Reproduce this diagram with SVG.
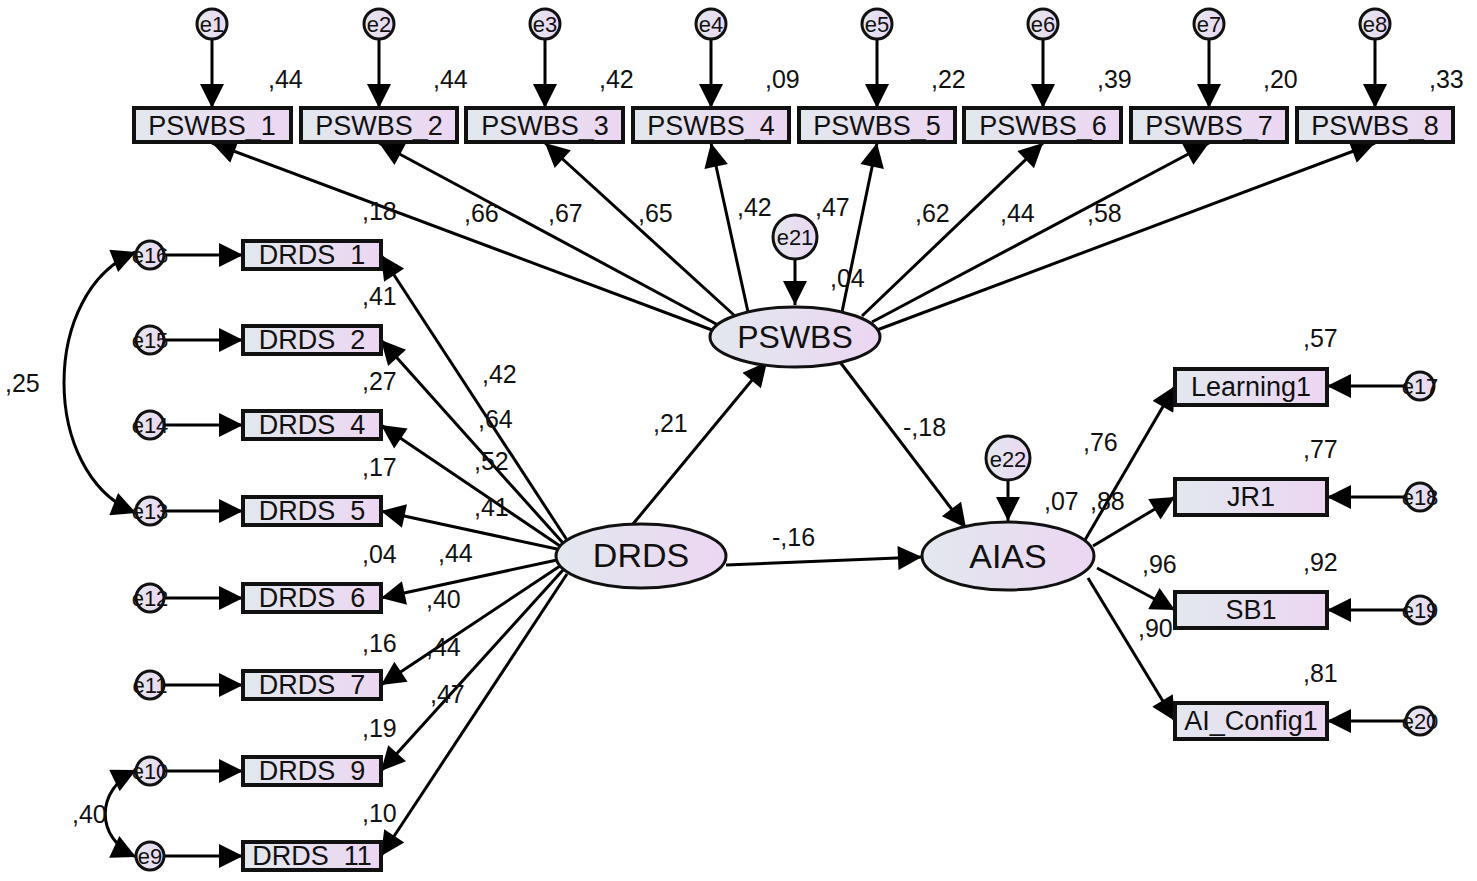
<svg xmlns="http://www.w3.org/2000/svg" width="1477" height="881" viewBox="0 0 1477 881">
<defs>
<linearGradient id="g" x1="0" y1="0" x2="1" y2="0"><stop offset="0" stop-color="#e2e8ee"/><stop offset="1" stop-color="#ecd6f2"/></linearGradient>
<marker id="a" viewBox="0 0 10 10" refX="10" refY="5" markerWidth="9" markerHeight="7" markerUnits="userSpaceOnUse" orient="auto" style="overflow:visible"><path d="M0,0 L10,5 L0,10 z" fill="#000"/></marker>
<marker id="b" viewBox="0 0 10 10" refX="10" refY="5" markerWidth="36" markerHeight="24" markerUnits="userSpaceOnUse" orient="auto-start-reverse"><path d="M0,0 L10,5 L0,10 z" fill="#000"/></marker>
</defs>
<style>
text{font-family:"Liberation Sans",Arial,sans-serif;fill:#111}
.bx{fill:url(#g);stroke:#111;stroke-width:4}
.el{fill:url(#g);stroke:#111;stroke-width:3}
.bt{font-size:27px;text-anchor:middle}
.et{font-size:22px;text-anchor:middle}
.lt{font-size:25px}
.c path,.c line{stroke:#000;stroke-width:3;fill:none;marker-end:url(#b)}
</style>
<rect width="1477" height="881" fill="#fff"/>
<g class="c" id="connectors">
<line x1="212" y1="39" x2="212" y2="108"/><line x1="379" y1="39" x2="379" y2="108"/><line x1="545" y1="39" x2="545" y2="108"/><line x1="711" y1="39" x2="711" y2="108"/><line x1="877" y1="39" x2="877" y2="108"/><line x1="1043" y1="39" x2="1043" y2="108"/><line x1="1209" y1="39" x2="1209" y2="108"/><line x1="1375" y1="39" x2="1375" y2="108"/>
<line x1="712" y1="330" x2="212" y2="143"/><line x1="718" y1="325" x2="379" y2="143"/><line x1="735" y1="316" x2="545" y2="143"/><line x1="748" y1="312" x2="711" y2="143"/><line x1="842" y1="312" x2="877" y2="143"/><line x1="862" y1="316" x2="1043" y2="143"/><line x1="872" y1="322" x2="1209" y2="143"/><line x1="877" y1="330" x2="1375" y2="143"/>
<line x1="795" y1="259" x2="795" y2="305"/>
<line x1="1008" y1="480" x2="1008" y2="521"/>
<line x1="164" y1="255" x2="243" y2="255"/><line x1="164" y1="340" x2="243" y2="340"/><line x1="164" y1="425" x2="243" y2="425"/><line x1="164" y1="511" x2="243" y2="511"/><line x1="164" y1="598" x2="243" y2="598"/><line x1="164" y1="685" x2="243" y2="685"/><line x1="164" y1="771" x2="243" y2="771"/><line x1="164" y1="856" x2="243" y2="856"/>
<line x1="567" y1="540" x2="381" y2="255"/><line x1="563" y1="543" x2="381" y2="340"/><line x1="560" y1="546" x2="381" y2="425"/><line x1="557" y1="549" x2="381" y2="511"/><line x1="557" y1="560" x2="381" y2="598"/><line x1="560" y1="566" x2="381" y2="685"/><line x1="563" y1="570" x2="381" y2="771"/><line x1="567" y1="574" x2="381" y2="856"/>
<line x1="633" y1="524" x2="767" y2="362"/>
<line x1="840" y1="362" x2="966" y2="528"/>
<line x1="726" y1="565" x2="922" y2="557"/>
<line x1="1085" y1="540" x2="1175" y2="386"/><line x1="1093" y1="546" x2="1175" y2="497"/><line x1="1097" y1="568" x2="1175" y2="610"/><line x1="1088" y1="578" x2="1175" y2="721"/>
<line x1="1406" y1="386" x2="1327" y2="386"/><line x1="1406" y1="497" x2="1327" y2="497"/><line x1="1406" y1="610" x2="1327" y2="610"/><line x1="1406" y1="721" x2="1327" y2="721"/>
<path d="M136,252 C40,290 40,475 136,513" style="marker-start:url(#b)"/>
<path d="M136,770 C95,790 95,838 136,857" style="marker-start:url(#b)"/>
</g>
<g id="PSWBS_items">
<rect class="bx" x="134" y="108" width="157" height="34"/><text class="bt" x="212" y="135">PSWBS_1</text>
<rect class="bx" x="301" y="108" width="156" height="34"/><text class="bt" x="379" y="135">PSWBS_2</text>
<rect class="bx" x="466" y="108" width="157" height="34"/><text class="bt" x="545" y="135">PSWBS_3</text>
<rect class="bx" x="633" y="108" width="156" height="34"/><text class="bt" x="711" y="135">PSWBS_4</text>
<rect class="bx" x="799" y="108" width="156" height="34"/><text class="bt" x="877" y="135">PSWBS_5</text>
<rect class="bx" x="964" y="108" width="157" height="34"/><text class="bt" x="1043" y="135">PSWBS_6</text>
<rect class="bx" x="1131" y="108" width="156" height="34"/><text class="bt" x="1209" y="135">PSWBS_7</text>
<rect class="bx" x="1297" y="108" width="156" height="34"/><text class="bt" x="1375" y="135">PSWBS_8</text>
</g>
<g id="PSWBS_errors">
<circle class="el" cx="212" cy="24" r="15"/><text class="et" x="212" y="32">e1</text>
<circle class="el" cx="379" cy="24" r="15"/><text class="et" x="379" y="32">e2</text>
<circle class="el" cx="545" cy="24" r="15"/><text class="et" x="545" y="32">e3</text>
<circle class="el" cx="711" cy="24" r="15"/><text class="et" x="711" y="32">e4</text>
<circle class="el" cx="877" cy="24" r="15"/><text class="et" x="877" y="32">e5</text>
<circle class="el" cx="1043" cy="24" r="15"/><text class="et" x="1043" y="32">e6</text>
<circle class="el" cx="1209" cy="24" r="15"/><text class="et" x="1209" y="32">e7</text>
<circle class="el" cx="1375" cy="24" r="15"/><text class="et" x="1375" y="32">e8</text>
</g>
<g id="DRDS_items">
<rect class="bx" x="243" y="241" width="138" height="28"/><text class="bt" x="312" y="264">DRDS_1</text>
<rect class="bx" x="243" y="326" width="138" height="28"/><text class="bt" x="312" y="349">DRDS_2</text>
<rect class="bx" x="243" y="411" width="138" height="28"/><text class="bt" x="312" y="434">DRDS_4</text>
<rect class="bx" x="243" y="497" width="138" height="28"/><text class="bt" x="312" y="520">DRDS_5</text>
<rect class="bx" x="243" y="584" width="138" height="28"/><text class="bt" x="312" y="607">DRDS_6</text>
<rect class="bx" x="243" y="671" width="138" height="28"/><text class="bt" x="312" y="694">DRDS_7</text>
<rect class="bx" x="243" y="757" width="138" height="28"/><text class="bt" x="312" y="780">DRDS_9</text>
<rect class="bx" x="243" y="842" width="138" height="28"/><text class="bt" x="312" y="865">DRDS_11</text>
</g>
<g id="DRDS_errors">
<circle class="el" cx="150" cy="255" r="14"/><text class="et" x="150" y="263">e16</text>
<circle class="el" cx="150" cy="340" r="14"/><text class="et" x="150" y="348">e15</text>
<circle class="el" cx="150" cy="425" r="14"/><text class="et" x="150" y="433">e14</text>
<circle class="el" cx="150" cy="511" r="14"/><text class="et" x="150" y="519">e13</text>
<circle class="el" cx="150" cy="598" r="14"/><text class="et" x="150" y="606">e12</text>
<circle class="el" cx="150" cy="685" r="14"/><text class="et" x="150" y="693">e11</text>
<circle class="el" cx="150" cy="771" r="14"/><text class="et" x="150" y="779">e10</text>
<circle class="el" cx="150" cy="856" r="14"/><text class="et" x="150" y="864">e9</text>
</g>
<g id="AIAS_items">
<rect class="bx" x="1175" y="369" width="152" height="36"/><text class="bt" x="1251" y="396">Learning1</text>
<rect class="bx" x="1175" y="479" width="152" height="36"/><text class="bt" x="1251" y="506">JR1</text>
<rect class="bx" x="1175" y="592" width="152" height="36"/><text class="bt" x="1251" y="619">SB1</text>
<rect class="bx" x="1175" y="703" width="152" height="36"/><text class="bt" x="1251" y="730">AI_Config1</text>
<circle class="el" cx="1420" cy="386" r="14"/><text class="et" x="1420" y="394">e17</text>
<circle class="el" cx="1420" cy="497" r="14"/><text class="et" x="1420" y="505">e18</text>
<circle class="el" cx="1420" cy="610" r="14"/><text class="et" x="1420" y="618">e19</text>
<circle class="el" cx="1420" cy="721" r="14"/><text class="et" x="1420" y="729">e20</text>
</g>
<g id="PSWBS"><ellipse class="el" cx="795" cy="337" rx="85" ry="30"/><text x="795" y="348" font-size="32" text-anchor="middle">PSWBS</text></g>
<g id="e21"><circle class="el" cx="795" cy="237" r="22"/><text class="et" x="795" y="245" font-size="25">e21</text></g>
<g id="DRDS"><ellipse class="el" cx="641" cy="556" rx="85" ry="32"/><text x="641" y="567" font-size="34" text-anchor="middle">DRDS</text></g>
<g id="AIAS"><ellipse class="el" cx="1008" cy="556" rx="86" ry="34"/><text x="1008" y="568" font-size="34" text-anchor="middle">AIAS</text></g>
<g id="e22"><circle class="el" cx="1008" cy="458" r="22"/><text class="et" x="1008" y="467" font-size="25">e22</text></g>
<g id="labels" class="lt">
<text x="268" y="88">,44</text><text x="433" y="88">,44</text><text x="599" y="88">,42</text><text x="765" y="88">,09</text><text x="931" y="88">,22</text><text x="1097" y="88">,39</text><text x="1263" y="88">,20</text><text x="1429" y="88">,33</text>
<text x="362" y="220">,18</text><text x="464" y="222">,66</text><text x="548" y="222">,67</text><text x="638" y="222">,65</text><text x="737" y="216">,42</text><text x="815" y="216">,47</text><text x="915" y="222">,62</text><text x="1000" y="222">,44</text><text x="1087" y="222">,58</text>
<text x="830" y="287">,04</text>
<text x="362" y="305">,41</text><text x="362" y="390">,27</text><text x="362" y="476">,17</text><text x="362" y="563">,04</text><text x="362" y="652">,16</text><text x="362" y="737">,19</text><text x="362" y="822">,10</text>
<text x="482" y="383">,42</text><text x="478" y="428">,64</text><text x="474" y="470">,52</text><text x="474" y="516">,41</text><text x="438" y="562">,44</text><text x="426" y="608">,40</text><text x="426" y="656">,44</text><text x="430" y="703">,47</text>
<text x="5" y="392">,25</text><text x="72" y="823">,40</text>
<text x="653" y="432">,21</text><text x="903" y="436">-,18</text><text x="772" y="546">-,16</text>
<text x="1303" y="347">,57</text><text x="1303" y="458">,77</text><text x="1303" y="571">,92</text><text x="1303" y="682">,81</text>
<text x="1083" y="451">,76</text><text x="1044" y="510">,07</text><text x="1090" y="510">,88</text><text x="1142" y="573">,96</text><text x="1138" y="637">,90</text>
</g>
</svg>
